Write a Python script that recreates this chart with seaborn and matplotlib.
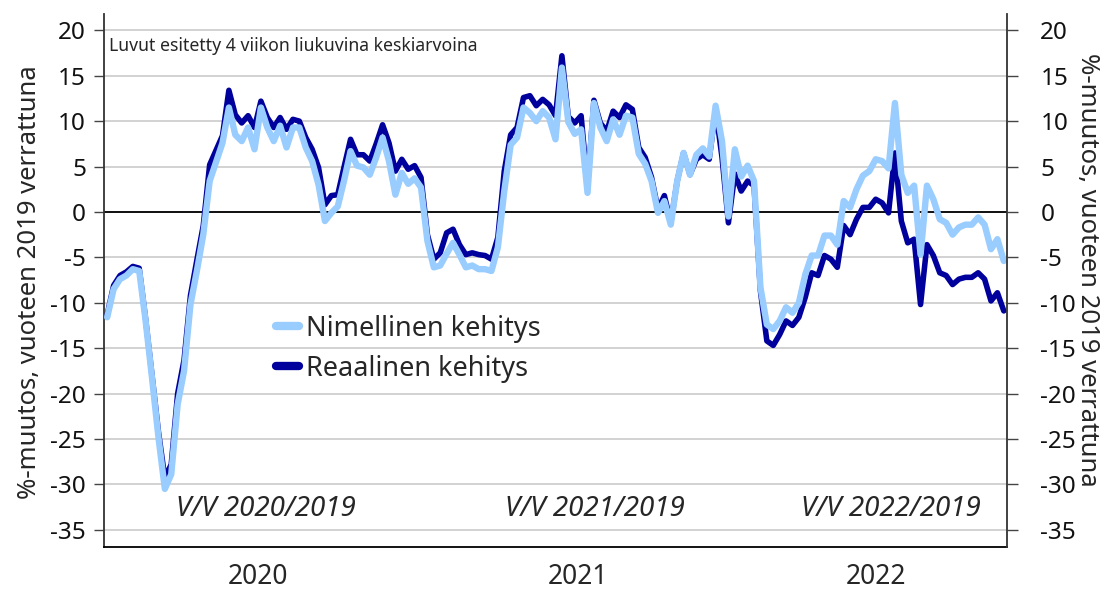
import numpy as np
import pandas as pd
import matplotlib
matplotlib.use("Agg")
import matplotlib.pyplot as plt
import matplotlib.transforms as mtransforms
from matplotlib.lines import Line2D
import seaborn as sns

# weekly data, 4 week moving average, % change vs same week of 2019
years = ["2020", "2021", "2022"]
weeks_per_year = [48, 52, 41]
period_labels = ["V/V 2020/2019", "V/V 2021/2019", "V/V 2022/2019"]
series_labels = ["Nimellinen kehitys", "Reaalinen kehitys"]

nimellinen = [
    -11.6, -8.5, -7.4, -7.0, -6.3, -6.5, -12.0, -18.3, -24.8, -30.5,
    -28.9, -21.2, -17.5, -10.2, -6.5, -2.5, 3.4, 5.5, 7.6, 11.5,
    8.5, 7.8, 9.3, 6.9, 11.5, 9.3, 7.8, 9.5, 7.1, 9.3,
    9.3, 7.1, 5.6, 3.0, -1.0, -0.1, 0.6, 3.5, 6.7, 5.1,
    4.9, 4.1, 6.0, 8.2, 5.6, 1.9, 4.3, 3.1, 3.7, 2.7,
    -3.2, -6.1, -5.9, -4.6, -3.4, -4.7, -6.1, -5.9, -6.3, -6.3,
    -6.5, -3.9, 2.3, 7.4, 8.2, 11.5, 10.9, 10.0, 11.1, 10.4,
    8.0, 15.9, 9.9, 8.6, 9.1, 2.1, 12.0, 9.3, 7.8, 10.2,
    8.5, 10.6, 10.4, 6.4, 5.3, 3.4, -0.1, 1.2, -1.4, 3.4,
    6.5, 4.1, 6.3, 7.0, 6.1, 11.7, 7.8, -0.5, 6.9, 3.9,
    5.1, 3.4, -8.3, -12.4, -12.9, -12.0, -10.5, -11.1, -10.0, -6.9,
    -4.8, -4.8, -2.6, -2.6, -3.6, 1.2, 0.5, 2.5, 4.0, 4.5,
    5.8, 5.6, 4.8, 12.0, 4.1, 2.1, 2.9, -4.7, 2.9, 1.4,
    -0.8, -1.2, -2.5, -1.7, -1.4, -1.4, -0.6, -1.4, -4.1, -3.0,
    -5.4,
]

reaalinen = [
    -11.3, -8.1, -7.0, -6.6, -6.0, -6.2, -11.8, -18.0, -24.2, -29.3,
    -27.8, -20.0, -16.3, -9.2, -5.3, -1.5, 5.2, 6.8, 8.4, 13.4,
    10.7, 9.8, 10.6, 9.3, 12.2, 10.4, 9.3, 10.4, 9.1, 10.2,
    10.0, 8.2, 6.9, 4.9, 0.8, 1.8, 1.9, 5.0, 8.0, 6.3,
    6.3, 5.6, 7.5, 9.6, 7.6, 4.5, 5.8, 4.7, 5.1, 3.8,
    -2.5, -5.2, -4.5, -2.3, -1.9, -3.6, -4.7, -4.5, -4.7, -4.8,
    -5.2, -2.8, 4.5, 8.5, 9.3, 12.6, 12.8, 11.7, 12.4, 11.8,
    10.6, 17.2, 10.5, 9.8, 10.6, 2.8, 12.3, 9.8, 8.9, 11.1,
    10.4, 11.8, 11.3, 7.1, 6.0, 3.8, 0.3, 1.8, -1.2, 3.4,
    6.5, 4.1, 5.8, 6.3, 5.8, 11.3, 6.0, -1.2, 4.2, 2.3,
    3.4, 2.9, -8.7, -14.2, -14.7, -13.5, -12.0, -12.5, -11.6, -9.4,
    -6.7, -7.0, -4.8, -5.2, -6.1, -1.5, -2.5, -0.8, 0.5, 0.5,
    1.4, 1.0, -0.1, 6.5, -1.0, -3.4, -3.0, -10.2, -3.6, -4.8,
    -6.7, -7.0, -8.0, -7.4, -7.2, -7.2, -6.7, -7.4, -9.8, -8.9,
    -10.9,
]

LIGHT = "#99ccff"
DARK = "#00009c"

sns.set_style("white")
plt.rcParams["font.family"] = ["Noto Sans", "DejaVu Sans"]

df = pd.DataFrame({
    "viikko": np.arange(len(nimellinen)),
    "Nimellinen kehitys": nimellinen,
    "Reaalinen kehitys": reaalinen,
})

fig = plt.figure(figsize=(11.05, 5.9), dpi=100)
ax = fig.add_axes([104 / 1105, 43 / 590, 903 / 1105, 533 / 590])

ymin, ymax = -36.9, 21.8
yticks = list(range(-35, 25, 5))

ax.set_axisbelow(True)
ax.yaxis.grid(True, color="#cfcfcf", linewidth=1.3)
ax.axhline(0, color="black", linewidth=1.3, zorder=1)

# real first so the nominal line sits on top
sns.lineplot(data=df, x="viikko", y="Reaalinen kehitys", color=DARK,
             linewidth=4.0, ax=ax, legend=False, zorder=3)
sns.lineplot(data=df, x="viikko", y="Nimellinen kehitys", color=LIGHT,
             linewidth=4.6, ax=ax, legend=False, zorder=4)

n = len(nimellinen)
ax.set_xlim(-0.5, n - 0.5)
ax.set_ylim(ymin, ymax)
ax.set_yticks(yticks)
ax.set_yticklabels([str(t) for t in yticks], fontsize=17.5)
ax.set_xlabel("")
ax.set_ylabel("")

# year separators on the category axis
bounds = np.cumsum(weeks_per_year)[:-1] - 0.5
ax.set_xticks(bounds)
ax.set_xticklabels([])
ax.tick_params(axis="x", length=10, width=1.3, color="black", direction="out")
ax.tick_params(axis="y", length=7, width=1.0, color="#444444", pad=6,
               direction="out", labelcolor="#111111")

for s in ["top", "right"]:
    ax.spines[s].set_visible(False)
ax.spines["bottom"].set_color("black")
ax.spines["bottom"].set_linewidth(1.3)
ax.spines["left"].set_color("#333333")
ax.spines["left"].set_linewidth(1.3)

ax2 = ax.twinx()
ax2.set_ylim(ymin, ymax)
ax2.set_yticks(yticks)
ax2.set_yticklabels([str(t) for t in yticks], fontsize=17.5)
ax2.tick_params(axis="y", length=8, width=1.0, color="#444444", pad=16,
                direction="out", labelcolor="#111111")
for s in ["top", "left", "bottom"]:
    ax2.spines[s].set_visible(False)
ax2.spines["right"].set_color("#333333")
ax2.spines["right"].set_linewidth(1.3)

trans = mtransforms.blended_transform_factory(ax.transData, ax.transAxes)
start = -0.5
for year, cnt in zip(years, weeks_per_year):
    center = start + cnt / 2
    ax.text(center, -0.056, year, transform=trans, ha="center", va="center",
            fontsize=19)
    start += cnt

# period labels near the bottom of the plot
ax.text(24.8, -32.7, period_labels[0], ha="center", va="center",
        fontsize=20, style="italic")
ax.text(76.2, -32.7, period_labels[1], ha="center", va="center",
        fontsize=20, style="italic")
ax.text(122.4, -32.7, period_labels[2], ha="center", va="center",
        fontsize=20, style="italic")

ax.text(0.005, 0.94, "Luvut esitetty 4 viikon liukuvina keskiarvoina",
        transform=ax.transAxes, ha="left", va="center", fontsize=12.7)

handles = [Line2D([0], [0], color=LIGHT, linewidth=6),
           Line2D([0], [0], color=DARK, linewidth=6)]
ax.legend(handles, series_labels, loc="center left",
          bbox_to_anchor=(0.191, 0.372), frameon=False, fontsize=19.5,
          handlelength=0.85, handletextpad=0.25, labelspacing=0.45,
          borderpad=0, borderaxespad=0)

fig.text(30 / 1105, 1 - 282 / 590, "%-muutos, vuoteen 2019 verrattuna",
         rotation=90, ha="center", va="center", fontsize=18.5)
fig.text(1087 / 1105, 1 - 270 / 590, "%-muutos, vuoteen 2019 verrattuna",
         rotation=270, ha="center", va="center", fontsize=18.5)

fig.savefig("out.png", dpi=100)
